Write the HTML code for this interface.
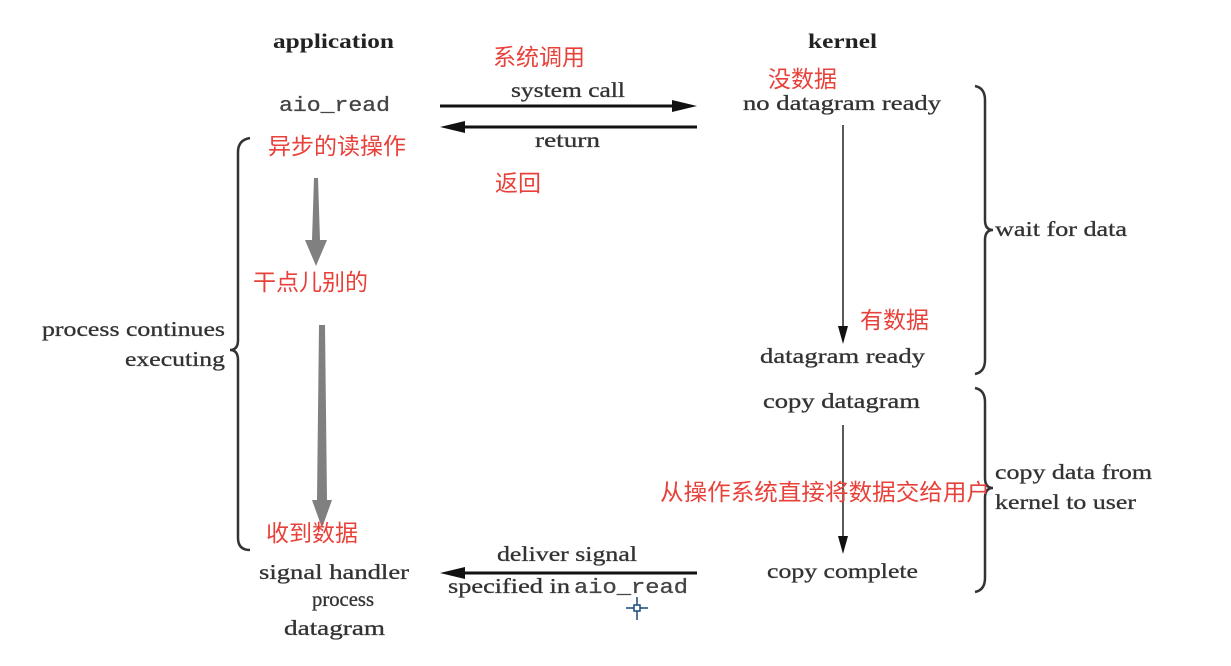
<!DOCTYPE html>
<html><head><meta charset="utf-8"><style>
html,body{margin:0;padding:0;background:#fff}
svg text{font-family:"Liberation Serif",serif;fill:#333}
.b{font-weight:bold;font-size:21px;fill:#222}
.s{font-size:21px;stroke:#333;stroke-width:0.3}
.m{font-family:"Liberation Mono",monospace !important;font-size:20px;fill:#444;stroke:#444;stroke-width:0.3}
.r{font-family:"Liberation Sans","Noto Sans CJK SC",sans-serif !important;fill:#e8413a;font-size:23px}
</style></head><body>
<svg width="1231" height="661" viewBox="0 0 1231 661" xmlns="http://www.w3.org/2000/svg">
<rect width="1231" height="661" fill="#fff"/>
<text class="b" x="273" y="48" textLength="121" lengthAdjust="spacingAndGlyphs">application</text>
<text class="b" x="808" y="48" textLength="69" lengthAdjust="spacingAndGlyphs">kernel</text>
<text class="m" x="279" y="111" textLength="111" lengthAdjust="spacingAndGlyphs">aio_read</text>
<text class="s" x="511" y="97" textLength="114" lengthAdjust="spacingAndGlyphs">system call</text>
<line x1="440" y1="106" x2="680" y2="106" stroke="#111" stroke-width="3"/>
<polygon points="697,106 672,100 672,112" fill="#111"/>
<line x1="457" y1="127" x2="697" y2="127" stroke="#111" stroke-width="3"/>
<polygon points="440,127 465,121 465,133" fill="#111"/>
<text class="s" x="535" y="147" textLength="65" lengthAdjust="spacingAndGlyphs">return</text>
<text class="s" x="743" y="110" textLength="198" lengthAdjust="spacingAndGlyphs">no datagram ready</text>
<line x1="843" y1="125" x2="843" y2="330" stroke="#222" stroke-width="1.5"/>
<polygon points="843,344 838,326 848,326" fill="#111"/>
<text class="s" x="760" y="363" textLength="165" lengthAdjust="spacingAndGlyphs">datagram ready</text>
<text class="s" x="763" y="408" textLength="157" lengthAdjust="spacingAndGlyphs">copy datagram</text>
<line x1="843" y1="425" x2="843" y2="540" stroke="#222" stroke-width="1.5"/>
<polygon points="843,554 838,536 848,536" fill="#111"/>
<text class="s" x="767" y="578" textLength="151" lengthAdjust="spacingAndGlyphs">copy complete</text>
<path d="M975,86 Q985,88 985,100 L985,220 Q985,230 993,230 Q985,230 985,240 L985,360 Q985,372 975,374" fill="none" stroke="#333" stroke-width="2.5"/>
<text class="s" x="995" y="236" textLength="132" lengthAdjust="spacingAndGlyphs">wait for data</text>
<path d="M975,388 Q985,390 985,402 L985,478 Q985,488 993,488 Q985,488 985,498 L985,578 Q985,590 975,592" fill="none" stroke="#333" stroke-width="2.5"/>
<text class="s" x="995" y="479" textLength="157" lengthAdjust="spacingAndGlyphs">copy data from</text>
<text class="s" x="995" y="509" textLength="141" lengthAdjust="spacingAndGlyphs">kernel to user</text>
<path d="M250,138 Q238,140 238,152 L238,340 Q238,350 230,350 Q238,350 238,360 L238,538 Q238,550 250,550" fill="none" stroke="#333" stroke-width="2.5"/>
<text class="s" x="42" y="336" textLength="183" lengthAdjust="spacingAndGlyphs">process continues</text>
<text class="s" x="125" y="366" textLength="100" lengthAdjust="spacingAndGlyphs">executing</text>
<polygon points="314,178 318,178 320,240 327,240 316,266 305,240 312,240" fill="#808080"/>
<polygon points="319,325 325,325 327,500 332,500 322,528 312,500 317,500" fill="#808080"/>
<text class="s" x="259" y="579" textLength="150" lengthAdjust="spacingAndGlyphs">signal handler</text>
<text class="s" x="312" y="606" textLength="62" lengthAdjust="spacingAndGlyphs">process</text>
<text class="s" x="284" y="635" textLength="101" lengthAdjust="spacingAndGlyphs">datagram</text>
<text class="s" x="497" y="561" textLength="140" lengthAdjust="spacingAndGlyphs">deliver signal</text>
<line x1="457" y1="573" x2="697" y2="573" stroke="#111" stroke-width="3"/>
<polygon points="440,573 465,567 465,579" fill="#111"/>
<text class="s" x="448" y="593" textLength="122" lengthAdjust="spacingAndGlyphs">specified in</text>
<text class="m" x="574" y="593" textLength="114" lengthAdjust="spacingAndGlyphs">aio_read</text>
<g stroke="#1a4a7a" stroke-width="1.5" fill="none"><line x1="626" y1="608" x2="648" y2="608"/><line x1="637" y1="597" x2="637" y2="620"/><rect x="634" y="605" width="6" height="6" fill="#fff"/></g>
<text class="r" x="493" y="65">系统调用</text>
<text class="r" x="495" y="191">返回</text>
<text class="r" x="768" y="87">没数据</text>
<text class="r" x="268" y="154">异步的读操作</text>
<text class="r" x="253" y="290">干点儿别的</text>
<text class="r" x="860" y="328">有数据</text>
<text class="r" x="660" y="500" textLength="330" lengthAdjust="spacingAndGlyphs">从操作系统直接将数据交给用户</text>
<text class="r" x="266" y="541">收到数据</text>
</svg>
</body></html>
